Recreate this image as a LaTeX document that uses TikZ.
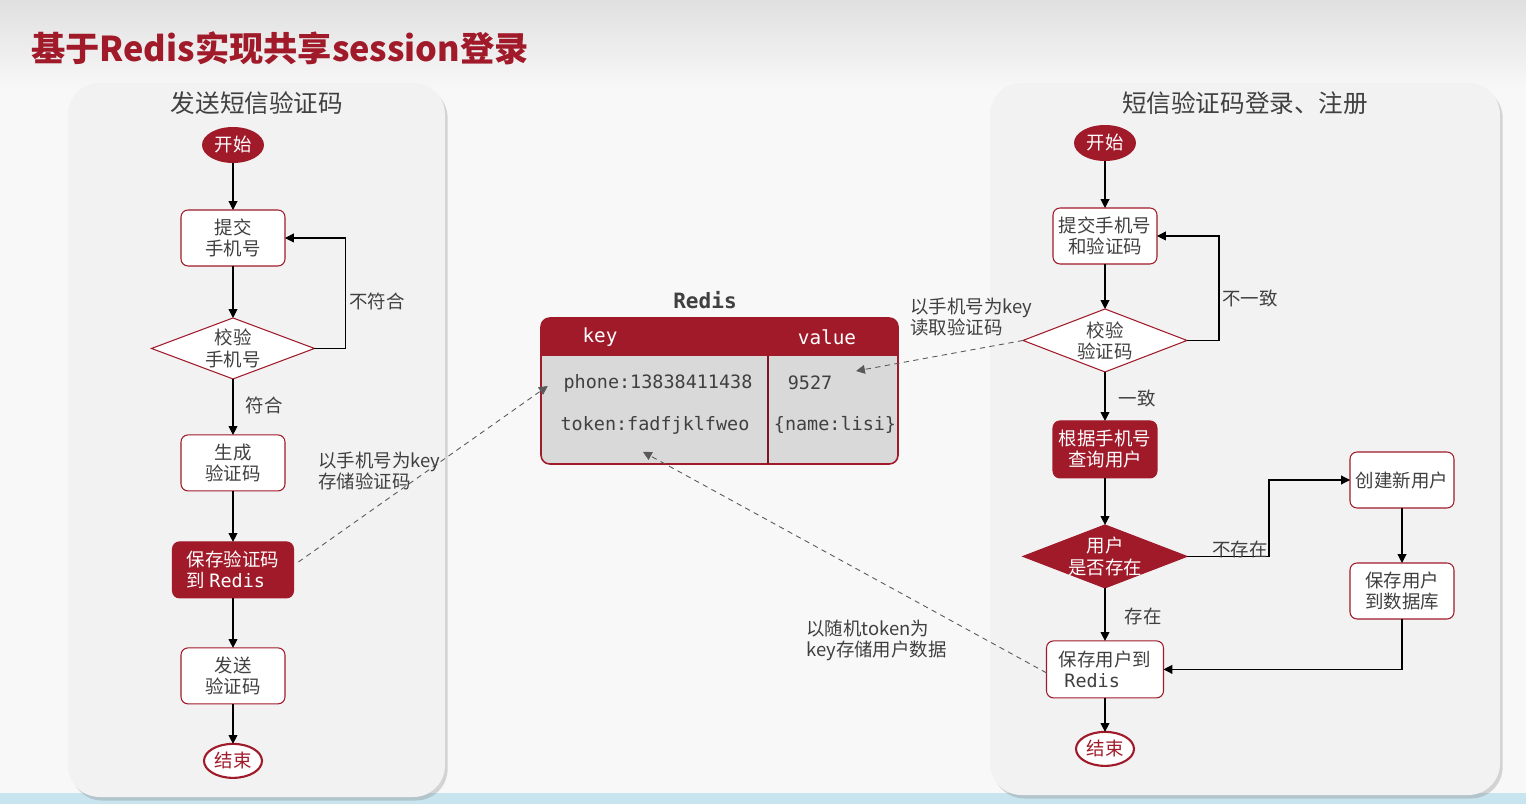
\documentclass[tikz,border=0pt]{standalone}
\usepackage{fontspec}
\setmainfont{Noto Sans CJK SC}
\setmonofont{DejaVu Sans Mono}
\usetikzlibrary{positioning,shapes.geometric,arrows.meta,shadows}

\begin{document}
\begin{tikzpicture}[x=0.02cm, y=-0.02cm, font=\fontsize{10.5}{12}\selectfont,
	stepbox/.style={rectangle, draw=redisred, line width=0.6pt, fill=white, rounded corners=4pt, text=textgray, align=center, minimum width=2.08cm, minimum height=1.12cm, inner sep=1pt, outer sep=0pt},
	redbox/.style={stepbox, fill=redisred, text=white},
	check/.style={diamond, draw=redisred, line width=0.6pt, fill=white, minimum width=3.26cm, minimum height=1.22cm, inner sep=0pt, outer sep=0pt},
	checktext/.style={align=center, text=textgray, inner sep=0pt},
	startnode/.style={ellipse, fill=redisred, text=white, minimum width=1.24cm, minimum height=0.72cm, inner sep=0pt, outer sep=0pt},
	endnode/.style={ellipse, draw=redisred, line width=1.2pt, fill=white, text=redisred, minimum width=1.16cm, minimum height=0.68cm, inner sep=0pt, outer sep=0pt},
	flow/.style={-{Triangle[length=5pt, width=5pt]}, line width=0.6pt, black},
	link/.style={-{Triangle[length=5pt, width=5pt]}, line width=0.5pt, dash pattern=on 3pt off 2.5pt, black!65},
	note/.style={text=textgray, align=left, inner sep=0pt, anchor=west},
	cell/.style={font=\fontsize{10.5}{12}\selectfont\ttfamily, text=textgray, inner sep=2pt},
	headcell/.style={cell, font=\fontsize{11}{13}\selectfont\ttfamily, text=white},
	heading/.style={font=\fontsize{14}{16}\selectfont, text=textgray},
	panel/.style={fill=panelgray, rounded corners=18pt, drop shadow={opacity=0.3, shadow xshift=1.5pt, shadow yshift=-2pt}}
]

	% Farben definieren
	\definecolor{redisred}{RGB}{160,26,42}
	\definecolor{panelgray}{RGB}{242,242,242}
	\definecolor{cellgray}{RGB}{217,217,217}
	\definecolor{textgray}{RGB}{64,64,64}
	\definecolor{pagegray}{RGB}{248,248,248}
	\definecolor{topgray}{RGB}{224,224,224}
	\definecolor{seablue}{RGB}{200,228,238}

	% --- Hintergrund ---
	\useasboundingbox (0,0) rectangle (1526,804);
	\fill[pagegray] (0,0) rectangle (1526,804);
	\shade[top color=topgray, bottom color=pagegray] (0,0) rectangle (1526,90);
	\fill[seablue] (0,793) rectangle (1526,804);
	\fill[panel] (68,83) rectangle (445,797);
	\fill[panel] (990,83) rectangle (1500,795);

	% Titel
	\node[font=\fontsize{19.5}{22}\selectfont\bfseries, text=redisred, anchor=west] (title) at (25,48) {基于Redis实现共享session登录};
	\node[heading] (lhead) at (257,103) {发送短信验证码};
	\node[heading] (rhead) at (1245,103) {短信验证码登录、注册};

	% --- Linke Spalte: Code senden ---
	\node[startnode] (lstart) at (233,145) {开始};
	\node[stepbox, below=0.94cm of lstart] (lsubmit) {提交\\手机号};
	\node[check, below=1.04cm of lsubmit, label={[checktext]center:{校验\\手机号}}] (lcheck) {};
	\node[stepbox, below=1.12cm of lcheck] (lcode) {生成\\验证码};
	\node[redbox, align=left, minimum width=2.42cm, below=1.02cm of lcode] (lsave) {保存验证码\\到 \texttt{Redis}};
	\node[stepbox, below=1.0cm of lsave] (lsend) {发送\\验证码};
	\node[endnode, below=0.8cm of lsend] (lend) {结束};

	\draw[flow] (lstart) -- (lsubmit);
	\draw[flow] (lsubmit) -- (lcheck);
	\draw[flow] (lcheck) -- (lcode);
	\draw[flow] (lcode) -- (lsave);
	\draw[flow] (lsave) -- (lsend);
	\draw[flow] (lsend) -- (lend);
	\draw[flow] (lcheck.east) -- ++(31,0) |- (lsubmit.east);
	\node[text=textgray] (lnomatch) at (377,301) {不符合};
	\node[text=textgray] (lmatch) at (264,405) {符合};

	% --- Redis Tabelle ---
	\node[font=\fontsize{12}{14}\selectfont\ttfamily\bfseries, text=textgray] (redistitle) at (705,300) {Redis};
	\fill[cellgray, rounded corners=5pt] (541,318) rectangle (898,464);
	\begin{scope}
		\clip[rounded corners=5pt] (541,318) rectangle (898,464);
		\fill[redisred] (541,318) rectangle (898,356);
	\end{scope}
	\draw[redisred, line width=0.9pt, rounded corners=5pt] (541,318) rectangle (898,464);
	\draw[redisred!80!black, line width=0.6pt] (768,356) -- (768,464);
	\node[headcell] (keyhead) at (600,337) {key};
	\node[headcell] (valhead) at (827,337) {value};
	\node[cell] (phone) at (658,383) {phone:13838411438};
	\node[cell] (code) at (810,383) {9527};
	\node[cell] (token) at (655,425) {token:fadfjklfweo};
	\node[cell] (user) at (835,425) {\{name:lisi\}};

	% --- Rechte Spalte: Login und Registrierung ---
	\node[startnode] (rstart) at (1105,143) {开始};
	\node[stepbox, below=0.94cm of rstart] (rsubmit) {提交手机号\\和验证码};
	\node[check, minimum width=3.28cm, minimum height=1.26cm, below=0.90cm of rsubmit, label={[checktext]center:{校验\\验证码}}] (rcheck) {};
	\node[redbox, minimum height=1.14cm, below=0.98cm of rcheck] (rquery) {根据手机号\\查询用户};
	\node[check, fill=redisred, minimum width=3.28cm, minimum height=1.26cm, below=0.94cm of rquery, label={[checktext, text=white]center:{用户\\是否存在}}] (rexist) {};
	\node[stepbox, align=left, minimum width=2.34cm, minimum height=1.14cm, below=1.06cm of rexist] (rsave) {保存用户到\\\hspace{0.3em}\texttt{Redis}};
	\node[endnode, below=0.68cm of rsave] (rend) {结束};
	\node[stepbox] (rcreate) at (1402,480) {创建新用户};
	\node[stepbox, below=1.1cm of rcreate] (rdb) {保存用户\\到数据库};

	\draw[flow] (rstart) -- (rsubmit);
	\draw[flow] (rsubmit) -- (rcheck);
	\draw[flow] (rcheck) -- (rquery);
	\draw[flow] (rquery) -- (rexist);
	\draw[flow] (rexist) -- (rsave);
	\draw[flow] (rsave) -- (rend);
	\draw[flow] (rcheck.east) -- ++(32,0) |- (rsubmit.east);
	\draw[flow] (rexist.east) -- ++(82,0) |- (rcreate.west);
	\draw[flow] (rcreate) -- (rdb);
	\draw[flow] (rdb.south) |- (rsave.east);
	\node[text=textgray] (rnomatch) at (1250,298) {不一致};
	\node[text=textgray] (rmatch) at (1137,398) {一致};
	\node[text=textgray] (rmissing) at (1240,549) {不存在};
	\node[text=textgray] (rfound) at (1143,616) {存在};

	% --- Verbindungen zu Redis ---
	\draw[link] ([shift={(5,-8)}]lsave.east) -- ([shift={(-12,3)}]phone.west);
	\draw[link] (rcheck.west) -- ([shift={(20,-12)}]code.east);
	\draw[link] ([yshift=-2pt]rsave.west) -- ([shift={(-12,14)}]token.south);
	\node[note] (storenote) at (318,471) {以手机号为key\\存储验证码};
	\node[note] (readnote) at (910,317) {以手机号为key\\读取验证码};
	\node[note] (tokennote) at (806,640) {以随机token为\\key存储用户数据};

\end{tikzpicture}
\end{document}
